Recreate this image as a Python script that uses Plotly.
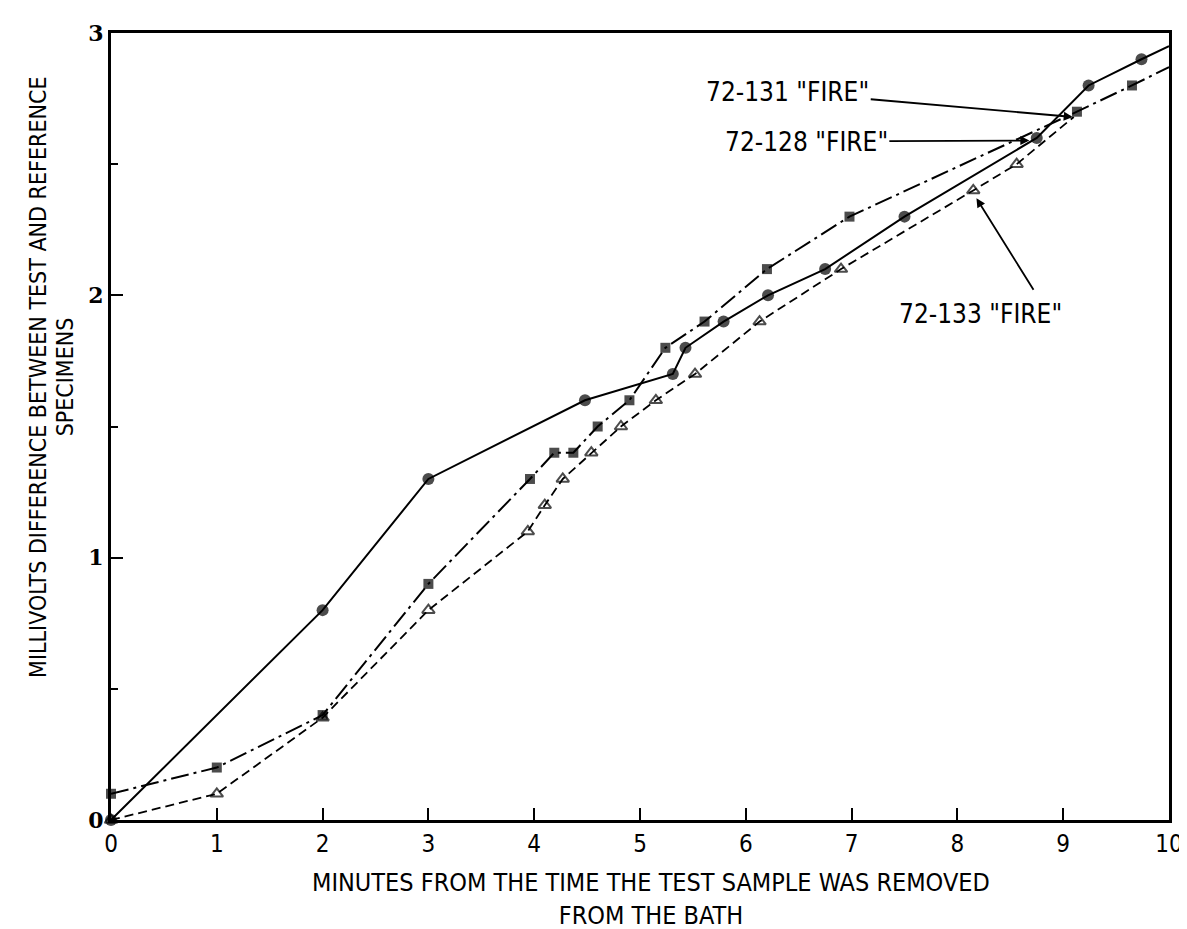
import plotly.graph_objects as go

# 72-128 "FIRE" (filled circles, solid line)
x128 = [0, 2, 3, 4.48, 5.31, 5.43, 5.79, 6.21, 6.75, 7.5, 8.75, 9.24, 9.74, 10]
y128 = [0, 0.8, 1.3, 1.6, 1.7, 1.8, 1.9, 2.0, 2.1, 2.3, 2.6, 2.8, 2.9, 2.95]
# 72-131 "FIRE" (filled squares, dash-dot line)
x131 = [0, 1, 2, 3, 3.96, 4.19, 4.37, 4.6, 4.9, 5.24, 5.61, 6.2, 6.98, 9.13, 9.65, 10]
y131 = [0.1, 0.2, 0.4, 0.9, 1.3, 1.4, 1.4, 1.5, 1.6, 1.8, 1.9, 2.1, 2.3, 2.7, 2.8, 2.87]
# 72-133 "FIRE" (open triangles, dashed line)
x133 = [0, 1, 2, 3, 3.94, 4.1, 4.27, 4.54, 4.82, 5.15, 5.52, 6.13, 6.9, 8.15, 8.56, 9.1]
y133 = [0, 0.1, 0.39, 0.8, 1.1, 1.2, 1.3, 1.4, 1.5, 1.6, 1.7, 1.9, 2.1, 2.4, 2.5, 2.68]

x_ticks = [0, 1, 2, 3, 4, 5, 6, 7, 8, 9, 10]
y_ticks = [0, 1, 2, 3]

NARROW = "DejaVu Sans Condensed, Liberation Sans Narrow, sans-serif"


def sizes(n, s):
    arr = [s] * n
    arr[-1] = 0  # final point is only the end of the drawn line
    return arr


fig = go.Figure()
fig.add_trace(go.Scatter(
    x=x133, y=y133, mode="lines+markers", name='72-133 "FIRE"',
    line=dict(color="black", width=1.8, dash="9px,5px"),
    marker=dict(symbol="triangle-up-open", size=sizes(len(x133), 11),
                color="black", line=dict(width=2, color="black")),
    cliponaxis=False))
fig.add_trace(go.Scatter(
    x=x131, y=y131, mode="lines+markers", name='72-131 "FIRE"',
    line=dict(color="black", width=2, dash="18px,5px,3px,5px"),
    marker=dict(symbol="square", size=sizes(len(x131), 10), color="black",
                line=dict(width=0)),
    cliponaxis=False))
fig.add_trace(go.Scatter(
    x=x128, y=y128, mode="lines+markers", name='72-128 "FIRE"',
    line=dict(color="black", width=2),
    marker=dict(symbol="circle", size=sizes(len(x128), 12), color="black",
                line=dict(width=0)),
    cliponaxis=False))

LBL = dict(family=NARROW, size=26, color="black")
ARR = dict(showarrow=True, arrowhead=2, arrowsize=1, arrowwidth=1.8, arrowcolor="black")

fig.add_annotation(x=9.09, y=2.68, xref="x", yref="y", text='72-131 "FIRE"',
                   ax=-285, ay=-25, font=LBL, **ARR)
fig.add_annotation(x=8.68, y=2.59, xref="x", yref="y", text='72-128 "FIRE"',
                   ax=-223, ay=1, font=LBL, **ARR)
fig.add_annotation(x=8.18, y=2.37, xref="x", yref="y", text="",
                   ax=58, ay=93, **ARR)
fig.add_annotation(x=8.22, y=1.93, xref="x", yref="y", text='72-133 "FIRE"',
                   showarrow=False, xanchor="center", yanchor="middle", font=LBL)

# axis titles
XT = dict(family=NARROW, size=25, color="black")
YT = dict(family=NARROW, size=23, color="black")
fig.add_annotation(x=0.51, y=-0.142, xref="paper", yref="paper",
                   text="MINUTES FROM THE TIME THE TEST SAMPLE WAS REMOVED<br>FROM THE BATH",
                   showarrow=False, xanchor="center", yanchor="bottom", font=XT)
fig.add_annotation(x=-0.069, y=0.563, xref="paper", yref="paper",
                   text="MILLIVOLTS DIFFERENCE BETWEEN TEST AND REFERENCE",
                   showarrow=False, textangle=-90, xanchor="center", yanchor="middle",
                   font=YT)
fig.add_annotation(x=-0.044, y=0.563, xref="paper", yref="paper",
                   text="SPECIMENS",
                   showarrow=False, textangle=-90, xanchor="center", yanchor="middle",
                   font=YT)

fig.update_layout(
    width=1187, height=929,
    margin=dict(l=103, r=20, t=18, b=117),
    plot_bgcolor="white", paper_bgcolor="white",
    showlegend=False,
)
fig.update_xaxes(
    range=[0, 10], tickvals=x_ticks, ticktext=[str(v) for v in x_ticks],
    ticks="inside", ticklen=12, tickwidth=1.5, tickcolor="black",
    showline=True, linewidth=3, linecolor="black", mirror=True,
    showgrid=False, zeroline=False,
    tickfont=dict(family=NARROW, size=24, color="black"),
)
fig.update_yaxes(
    range=[0, 3], tickvals=y_ticks, ticktext=[str(v) for v in y_ticks],
    ticks="inside", ticklen=12, tickwidth=1.5, tickcolor="black",
    minor=dict(dtick=0.5, ticks="inside", ticklen=7, tickwidth=1.5, tickcolor="black"),
    showline=True, linewidth=3, linecolor="black", mirror=True,
    showgrid=False, zeroline=False,
    tickfont=dict(family="DejaVu Serif", size=22, color="black", weight="bold"),
)

fig.write_html("out.html")
